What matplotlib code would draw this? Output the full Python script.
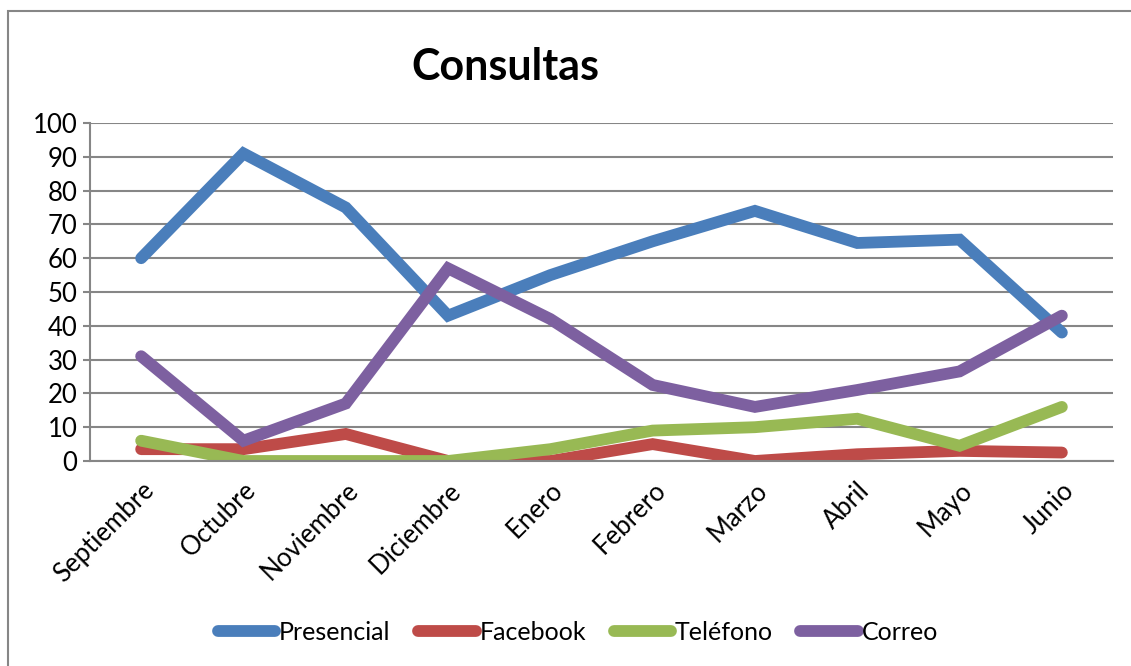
import matplotlib.pyplot as plt
from matplotlib.patches import Rectangle

# datos
meses = ["Septiembre", "Octubre", "Noviembre", "Diciembre", "Enero",
         "Febrero", "Marzo", "Abril", "Mayo", "Junio"]
presencial = [60, 91, 75, 43, 55, 65, 74, 64.5, 65.5, 38]
facebook = [3.5, 3.5, 8, 0, 0, 5, 0, 2, 3, 2.5]
telefono = [6, 0, 0, 0, 3.5, 9, 10, 12.5, 4.5, 16]
correo = [31, 6, 17, 57, 42, 22.5, 16, 21, 26.5, 43]

series = ["Presencial", "Facebook", "Teléfono", "Correo"]
colores = ["#4A7EBB", "#BE4B48", "#98B954", "#7D60A0"]

plt.rcParams['font.family'] = ['Lato', 'DejaVu Sans']

fig = plt.figure(figsize=(11.31, 6.66), dpi=100)
ax = fig.add_axes([90 / 1131, 1 - 461 / 666, (1113 - 90) / 1131, (461 - 123) / 666])

# marco del area del grafico
fig.patches.append(Rectangle((8 / 1131, -0.1), 1.1, 1 - 11 / 666 + 0.1,
                             transform=fig.transFigure, fill=False,
                             edgecolor="#868686", linewidth=1.5))

x = list(range(len(meses)))
for datos, nombre, c in zip([presencial, facebook, telefono, correo], series, colores):
    ax.plot(x, datos, color=c, linewidth=8.5, label=nombre,
            solid_capstyle='round', solid_joinstyle='miter')

ax.set_xlim(-0.5, 9.5)
ax.set_ylim(0, 100)
ax.set_yticks(range(0, 101, 10))
ax.set_xticks(x)
ax.set_xticklabels(meses, rotation=45, ha='right', rotation_mode='anchor')
ax.tick_params(axis='both', labelsize=18.5, colors='#868686', labelcolor='black')
ax.tick_params(axis='x', length=0, pad=12)
ax.tick_params(axis='y', length=5, width=1.5, pad=4)

ax.yaxis.grid(True, color='#868686', linewidth=1.5)
ax.set_axisbelow(True)
for s in ['top', 'right']:
    ax.spines[s].set_visible(False)
ax.spines['left'].set_color('#868686')
ax.spines['left'].set_linewidth(1.5)
ax.spines['bottom'].set_color('#868686')
ax.spines['bottom'].set_linewidth(1.5)

fig.text(505 / 1131, 1 - 67 / 666, "Consultas", fontsize=31, fontweight='bold',
         ha='center', va='center')

fig.legend(loc='center', bbox_to_anchor=(578 / 1131, 1 - 632 / 666), ncol=4,
           frameon=False, fontsize=18, handlelength=2.3, handletextpad=0.15,
           columnspacing=1.1)

plt.savefig("out.png", dpi=100)
